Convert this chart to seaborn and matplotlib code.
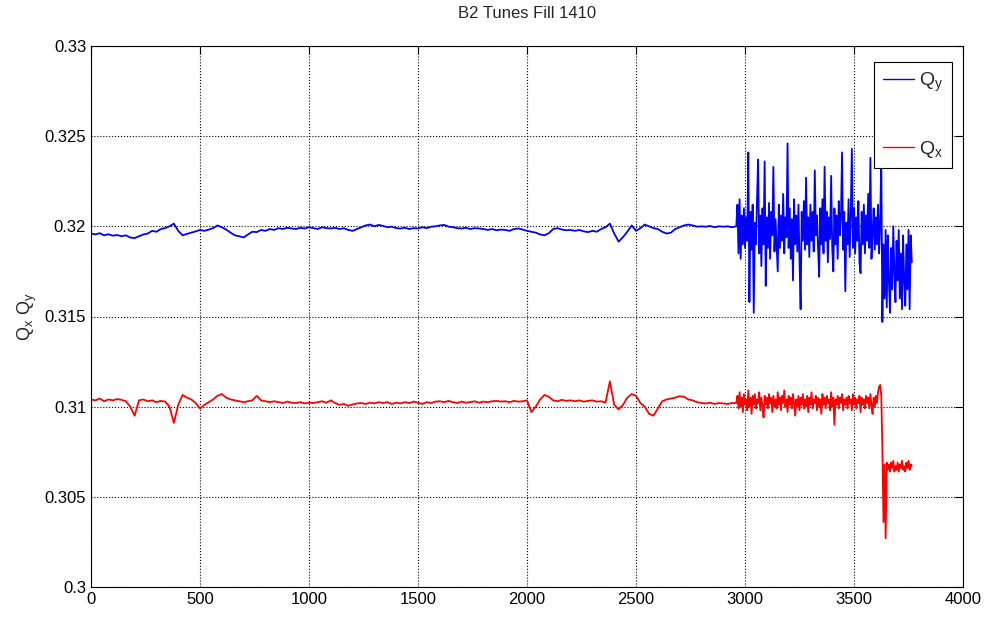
import numpy as np
import pandas as pd
import matplotlib
matplotlib.use("Agg")
import matplotlib.pyplot as plt
import seaborn as sns
from matplotlib.ticker import FormatStrFormatter, MultipleLocator

# tune values, in units of 1e-5
# slow part: one sample every 20 s from t = 0
qy_slow = [
    31960, 31955, 31962,
    31950, 31956, 31948, 31952,
    31945, 31950, 31938, 31935,
    31945, 31955, 31960,
    31975, 31970, 31985, 31990,
    32000, 32015, 31975,
    31950, 31958, 31965,
    31972, 31980, 31975, 31982,
    31990, 32005, 31995, 31982,
    31965, 31950, 31945, 31938,
    31955, 31970, 31968,
    31980, 31975, 31985, 31980,
    31990, 31985, 31992, 31988,
    31985, 31992, 31988, 31995,
    31990, 31985, 31995, 31990,
    31988, 31992, 31985, 31990,
    31980, 31975, 31985, 31995,
    32005, 32010, 32000, 32008,
    32002, 31995, 31998, 31990,
    31988, 31992, 31985, 31990,
    31988, 31995, 31990, 31998,
    32000, 32005, 32008, 31998,
    31995, 31990, 31988, 31992,
    31985, 31990, 31988, 31985,
    31980, 31985, 31978, 31982,
    31980, 31975, 31985, 31988,
    31982, 31975, 31970, 31965,
    31955, 31950, 31962, 31985,
    31990, 31982, 31978, 31980,
    31975, 31980, 31972, 31968,
    31975, 31970, 31985, 31995,
    32015, 31960, 31915,
    31940, 31970, 32005,
    31975, 31990, 32010, 32000,
    31990, 31985, 31970, 31960,
    31965, 31985, 31995, 32005,
    32010, 32005, 31998, 32000,
    31998, 32002, 31995, 32000,
    31998, 32000, 31995,
]
qx_slow = [
    31040, 31035, 31045,
    31030, 31040, 31035, 31042,
    31038, 31030, 31000, 30950,
    31035, 31040, 31030,
    31035, 31025, 31032, 31028,
    31000, 30910, 31010,
    31065, 31050, 31040,
    31020, 30990, 31010, 31025,
    31040, 31060, 31070, 31050,
    31040, 31035, 31030, 31025,
    31030, 31035, 31060,
    31035, 31030, 31025, 31030,
    31025, 31020, 31028, 31022,
    31020, 31025, 31018, 31022,
    31020, 31025, 31030, 31022,
    31035, 31020, 31010, 31015,
    31005, 31012, 31018, 31020,
    31015, 31022, 31018, 31025,
    31020, 31025, 31015, 31022,
    31018, 31025, 31020, 31028,
    31022, 31015, 31025, 31020,
    31028, 31030, 31025, 31032,
    31025, 31020, 31028, 31022,
    31025, 31030, 31022, 31028,
    31025, 31030, 31032, 31028,
    31030, 31025, 31032, 31028,
    31030, 31035, 30970, 31000,
    31040, 31065, 31055, 31035,
    31030, 31038, 31032, 31035,
    31030, 31035, 31028, 31032,
    31035, 31028, 31030, 31022,
    31140, 31010, 30985,
    31010, 31050, 31070,
    31060, 31020, 31000, 30960,
    30950, 30990, 31030, 31040,
    31045, 31050, 31058, 31055,
    31040, 31035, 31025, 31020,
    31018, 31022, 31015, 31020,
    31018, 31015, 31020,
]

# fast part: one sample every 5 s from t = 2960
qy_fast = [
    32000, 32120, 31850, 32150, 31820, 32060, 31900, 32100, 31880, 32050,
    31920, 32410, 31580, 32080, 31870, 32120, 31520, 32020, 31900, 32150,
    32370, 31850, 32060, 31780, 32100, 31900, 32360, 31670, 32050, 31880,
    32130, 31820, 32080, 31950, 32330, 31860, 32040, 31900, 31750, 32120,
    31880, 32060, 31920, 32180, 31850, 32050, 31940, 32460, 31880, 32100,
    31820, 32040, 31700, 32150, 31900, 32060, 31860, 32120, 31800, 31540,
    32080, 31920, 32140, 31870, 32270, 31900, 32050, 31830, 32120, 31920,
    32080, 31860, 32310, 31950, 32060, 31880, 31720, 32100, 31900, 32150,
    31850, 32330, 31920, 32080, 31800, 32050, 31930, 32280, 31880, 31750,
    32100, 31900, 32060, 31820, 32140, 31950, 32050, 32410, 31870, 32080,
    31640, 32020, 31900, 32150, 31830, 32060, 32430, 31880, 32100, 31850,
    32050, 31920, 32140, 31800, 31740, 32080, 31900, 32120, 31850, 32060,
    31920, 32180, 31880, 32380, 31820, 31950, 32100, 31870, 32050, 31900,
    32120, 31850, 32020, 32380, 31470, 31900, 31600, 31980, 31550, 31950,
    31700, 31520, 31880, 31650, 32000, 31750, 31580, 31920, 31700, 31980,
    31600, 31850, 31540, 31950, 31700, 31560, 31900, 31650, 31980, 31540,
    31950, 31800,
]
qx_fast = [
    31020, 31060, 30990, 31080, 31000, 31050, 30970, 31070, 31010, 31040,
    30980, 31090, 31000, 31050, 30960, 31060, 31010, 31070, 30990, 31040,
    31020, 31080, 30980, 31050, 31000, 30940, 31060, 31010, 31050, 30990,
    31070, 31020, 31050, 30970, 31060, 31000, 31040, 30990, 31080, 31010,
    31050, 30980, 31060, 31020, 31090, 31000, 31040, 30970, 31060, 31010,
    31050, 30990, 31070, 31020, 30950, 31040, 31000, 31060, 30980, 31050,
    31010, 31070, 30990, 31040, 31000, 31060, 30970, 31050, 31010, 31080,
    30990, 31040, 31020, 31060, 30980, 31050, 31000, 31040, 30960, 31070,
    31010, 31050, 30990, 31060, 31020, 31040, 30980, 31080, 31000, 31050,
    30900, 31040, 31010, 31060, 30990, 31050, 31020, 31070, 30980, 31040,
    31010, 31050, 30990, 31060, 31020, 31040, 30980, 31070, 31010, 31050,
    30990, 31040, 31020, 31060, 30970, 31050, 31010, 31040, 30990, 31060,
    31020, 31050, 30990, 31070, 31010, 30960, 31050, 31000, 31060, 31020,
    31080, 31110, 31120, 31060, 30770, 30360, 30680, 30270, 30690, 30650,
    30680, 30640, 30690, 30660, 30700, 30640, 30670, 30650, 30690, 30640,
    30680, 30660, 30700, 30650, 30670, 30640, 30690, 30660, 30700, 30650,
    30680, 30670,
]


def series(slow, fast, name):
    t = np.concatenate([np.arange(len(slow)) * 20.0,
                        2960 + np.arange(len(fast)) * 5.0])
    q = np.concatenate([slow, fast]) / 1e5
    return pd.DataFrame({"t": t, "tune": q, "plane": name})


data = pd.concat([series(qy_slow, qy_fast, "Qy"),
                  series(qx_slow, qx_fast, "Qx")], ignore_index=True)

sns.set_style("white")
plt.rcParams["font.family"] = ["Liberation Sans", "DejaVu Sans"]

fig = plt.figure(figsize=(9.85, 6.25), dpi=100)
ax = fig.add_axes([0.0924, 0.0608, 0.8853, 0.8656])

sns.lineplot(data=data, x="t", y="tune", hue="plane",
             palette={"Qy": "#0000ff", "Qx": "#ff0000"},
             estimator=None, sort=False, linewidth=1.3, ax=ax, legend=False)

ax.set_xlim(0, 4000)
ax.set_ylim(0.3, 0.33)
ax.xaxis.set_major_locator(MultipleLocator(500))
ax.yaxis.set_major_locator(MultipleLocator(0.005))
ax.yaxis.set_major_formatter(FormatStrFormatter("%g"))
ax.tick_params(direction="in", top=True, right=True, length=6,
               width=0.8, colors="black", labelsize=12)
ax.grid(True, linestyle=":", color="black", linewidth=0.8)
for s in ax.spines.values():
    s.set_color("black")
    s.set_linewidth(0.8)

ax.set_xlabel("")
ax.set_ylabel(r"$\mathregular{Q_x\ Q_y}$", fontsize=13, labelpad=4)
ax.set_title("B2 Tunes Fill 1410", fontsize=12, pad=20)

hy, = ax.plot([], [], color="#0000ff", linewidth=1.0)
hx, = ax.plot([], [], color="#ff0000", linewidth=1.0)
leg = ax.legend([hy, hx], [r"$\mathregular{Q_y}$", r"$\mathregular{Q_x}$"],
                loc="upper right", fontsize=14, labelspacing=2.3,
                handlelength=1.6, handletextpad=0.25, borderpad=0.45,
                borderaxespad=0, fancybox=False, framealpha=1,
                edgecolor="black", bbox_to_anchor=(0.9874, 0.9704))
leg.get_frame().set_linewidth(0.8)

fig.savefig("out.png", dpi=100, facecolor="white")
